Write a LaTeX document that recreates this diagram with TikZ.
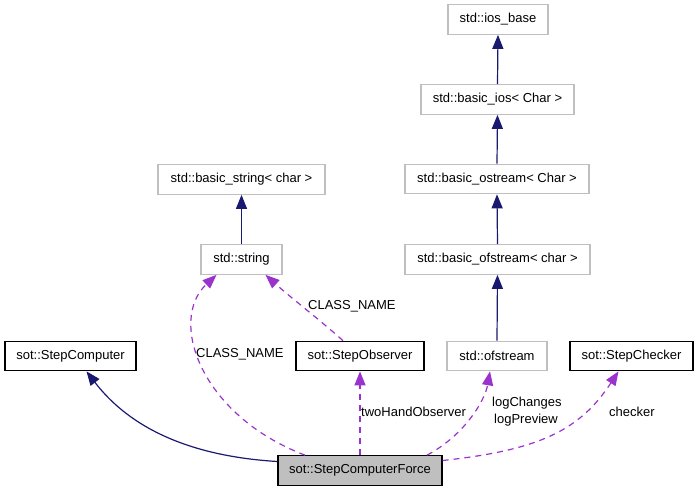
\documentclass[tikz,border=0pt]{standalone}
\usepackage{fontspec}
\setmainfont{Liberation Sans}
\usetikzlibrary{arrows.meta,calc}
\definecolor{navy}{HTML}{191970}
\definecolor{orchid}{HTML}{9A32CD}
\definecolor{lgray}{HTML}{BFBFBF}
\begin{document}
\begin{tikzpicture}[x=1pt,y=-1pt,
  font=\fontsize{13}{15}\selectfont,
  box/.style={draw=black,line width=1.2pt,inner sep=0pt,minimum height=29.5pt},
  gbox/.style={draw=lgray,line width=1.2pt,inner sep=0pt,minimum height=29.5pt},
  inh/.style={draw=navy,line width=1.2pt,-{Triangle[length=14pt,width=11pt]}},
  use/.style={draw=orchid,line width=1.2pt,dash pattern=on 6pt off 5pt,-{Triangle[length=14pt,width=11pt]}},
  lbl/.style={anchor=west,inner sep=0pt,text=black}]
\useasboundingbox (0,0) rectangle (699,491);
\node[gbox,minimum width=100pt] (iosbase) at (498,19.5) {std::ios\_base};
\node[gbox,minimum width=153pt] (basicios) at (497.5,99.5) {std::basic\_ios< Char >};
\node[gbox,minimum width=184pt] (ostream) at (497,179) {std::basic\_ostream< Char >};
\node[gbox,minimum width=185pt] (ofstreamb) at (497.5,259.5) {std::basic\_ofstream< char >};
\node[gbox,minimum width=100pt] (ofstream) at (497,356) {std::ofstream};
\node[box,minimum width=123pt] (checker) at (631.5,356) {sot::StepChecker};
\node[box,minimum width=128pt] (observer) at (360,356) {sot::StepObserver};
\node[box,minimum width=131pt] (computer) at (70.5,356) {sot::StepComputer};
\node[box,fill=lgray,minimum width=164pt] (scf) at (360,470.5) {sot::StepComputerForce};
\node[gbox,minimum width=167pt] (bstring) at (241.5,179.5) {std::basic\_string< char >};
\node[gbox,minimum width=81pt] (string) at (241.5,259.5) {std::string};

\draw[inh] (basicios.north) -- (iosbase.south);
\draw[inh] (ostream.north) -- (basicios.south);
\draw[inh] (ofstreamb.north) -- (ostream.south);
\draw[inh] (ofstream.north) -- (ofstreamb.south);
\draw[inh] (string.north) -- (bstring.south);
\draw[inh] ($(scf.west)+(0,-9)$) .. controls (170,455) and (120,415) .. ($(computer.south)+(16,0)$);

\draw[use] ($(scf.north)+(-55,0)$) .. controls (200,415) and (168,320) .. ($(string.south)+(-25,0)$);
\draw[use] ($(observer.north)+(-17,0)$) .. controls (320,320) and (290,297) .. ($(string.south)+(24,0)$);
\draw[use] (scf.north) -- (observer.south);
\draw[use] ($(scf.north)+(67,0)$) .. controls (465,435) and (485,400) .. ($(ofstream.south)+(-7,0)$);
\draw[use] ($(scf.east)+(0,-10)$) .. controls (540,450) and (580,430) .. ($(checker.south)+(-13,0)$);

\node[lbl] (l1) at (196,354) {CLASS\_NAME};
\node[lbl] (l2) at (308,306) {CLASS\_NAME};
\node[lbl] (l3) at (361,412) {twoHandObserver};
\node[lbl] (l4) at (492,403) {logChanges};
\node[lbl] (l5) at (494,420) {logPreview};
\node[lbl] (l6) at (609,412) {checker};
\end{tikzpicture}
\end{document}
